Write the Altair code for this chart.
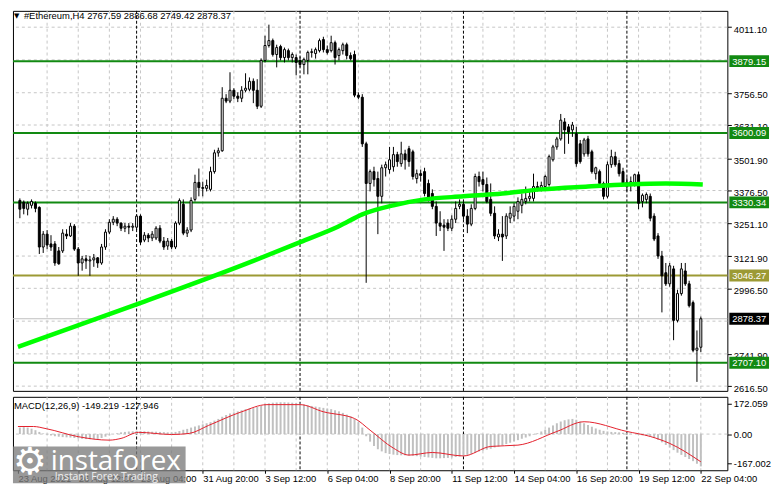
import altair as alt
import pandas as pd

# ---------------- data ----------------
OPEN = [3338, 3331, 3304, 3319, 3327, 3311, 3157, 3207, 3169, 3169,
        3142, 3142, 3207, 3200, 3238, 3149, 3095, 3111, 3103, 3107,
        3115, 3095, 3157, 3215, 3253, 3265, 3250, 3230, 3238, 3234,
        3234, 3277, 3184, 3203, 3192, 3192, 3230, 3180, 3161, 3180,
        3157, 3250, 3323, 3211, 3223, 3342, 3408, 3388, 3385, 3381,
        3450, 3523, 3531, 3735, 3724, 3766, 3743, 3735, 3766, 3770,
        3801, 3766, 3704, 3882, 3940, 3959, 3905, 3936, 3893, 3920,
        3893, 3893, 3882, 3866, 3882, 3913, 3909, 3920, 3963, 3924,
        3920, 3951, 3901, 3920, 3943, 3901, 3905, 3747, 3739, 3558,
        3404, 3450, 3423, 3354, 3465, 3458, 3469, 3516, 3481, 3519,
        3539, 3527, 3423, 3442, 3450, 3404, 3365, 3315, 3250, 3242,
        3250, 3230, 3265, 3315, 3323, 3277, 3246, 3307, 3431, 3419,
        3400, 3342, 3288, 3196, 3207, 3200, 3269, 3277, 3296, 3319,
        3334, 3346, 3346, 3392, 3385, 3392, 3400, 3496, 3546, 3577,
        3643, 3624, 3612, 3597, 3558, 3519, 3577, 3527, 3442, 3450,
        3404, 3354, 3477, 3508, 3481, 3450, 3408, 3400, 3404, 3438,
        3334, 3342, 3354, 3277, 3200, 3122, 3057, 3014, 3072, 2872,
        2976, 3064, 3014, 2941, 2756, 2767.59]
HIGH = [3346, 3338, 3334, 3342, 3334, 3315, 3219, 3223, 3203, 3180,
        3157, 3226, 3226, 3250, 3246, 3157, 3122, 3126, 3122, 3130,
        3118, 3169, 3226, 3265, 3277, 3273, 3253, 3250, 3250, 3250,
        3284, 3284, 3215, 3211, 3219, 3238, 3242, 3196, 3192, 3188,
        3257, 3346, 3342, 3234, 3350, 3438, 3462, 3411, 3419, 3469,
        3535, 3543, 3778, 3751, 3836, 3774, 3758, 3782, 3832, 3816,
        3812, 3809, 3890, 3978, 4021, 3967, 3943, 3943, 3932, 3928,
        3913, 3905, 3897, 3893, 3920, 3928, 3932, 3967, 3974, 3940,
        3978, 3959, 3932, 3951, 3951, 3913, 3920, 3758, 3751, 3566,
        3458, 3469, 3450, 3477, 3489, 3546, 3546, 3527, 3566, 3535,
        3550, 3535, 3458, 3458, 3465, 3419, 3381, 3334, 3296, 3265,
        3265, 3280, 3334, 3342, 3334, 3304, 3323, 3442, 3450, 3450,
        3427, 3404, 3315, 3226, 3277, 3288, 3315, 3327, 3350, 3365,
        3392, 3373, 3442, 3411, 3411, 3438, 3516, 3554, 3585, 3674,
        3658, 3635, 3643, 3624, 3573, 3581, 3589, 3535, 3469, 3458,
        3411, 3489, 3535, 3527, 3496, 3465, 3427, 3431, 3442, 3450,
        3365, 3369, 3365, 3288, 3211, 3142, 3095, 3095, 3084, 2991,
        3095, 3095, 3026, 2949, 2833, 2886.68]
LOW = [3269, 3284, 3280, 3307, 3292, 3130, 3134, 3149, 3142, 3084,
       3088, 3134, 3188, 3196, 3142, 3045, 3065, 3072, 3045, 3080,
       3076, 3088, 3146, 3207, 3242, 3238, 3219, 3215, 3207, 3219,
       3223, 3165, 3176, 3176, 3180, 3184, 3172, 3146, 3146, 3149,
       3149, 3242, 3203, 3196, 3215, 3334, 3354, 3354, 3373, 3373,
       3442, 3508, 3527, 3716, 3716, 3731, 3720, 3720, 3758, 3762,
       3716, 3693, 3697, 3874, 3932, 3897, 3855, 3882, 3874, 3882,
       3874, 3824, 3855, 3828, 3828, 3893, 3889, 3913, 3913, 3905,
       3913, 3866, 3882, 3905, 3886, 3882, 3739, 3731, 3546, 3018,
       3373, 3392, 3207, 3327, 3431, 3442, 3450, 3469, 3469, 3458,
       3469, 3419, 3404, 3411, 3354, 3334, 3304, 3200, 3219, 3142,
       3219, 3219, 3250, 3304, 3265, 3211, 3238, 3300, 3392, 3373,
       3327, 3277, 3188, 3180, 3103, 3188, 3250, 3257, 3265, 3288,
       3323, 3334, 3334, 3373, 3373, 3384, 3392, 3489, 3535, 3570,
       3519, 3558, 3585, 3469, 3481, 3508, 3508, 3442, 3419, 3392,
       3342, 3346, 3465, 3469, 3431, 3396, 3373, 3373, 3392, 3304,
       3311, 3327, 3257, 3180, 3111, 2903, 3006, 3003, 2795, 2864,
       2968, 3006, 2922, 2748, 2633, 2749.42]
CLOSE = [3304, 3307, 3327, 3334, 3307, 3157, 3207, 3165, 3157, 3095,
         3092, 3211, 3200, 3238, 3149, 3095, 3111, 3103, 3107, 3115,
         3095, 3157, 3215, 3253, 3265, 3250, 3230, 3238, 3234, 3238,
         3277, 3176, 3203, 3192, 3207, 3230, 3180, 3157, 3180, 3157,
         3250, 3338, 3211, 3223, 3338, 3408, 3388, 3385, 3396, 3450,
         3523, 3531, 3735, 3724, 3766, 3743, 3735, 3766, 3774, 3801,
         3766, 3704, 3882, 3940, 3959, 3905, 3932, 3893, 3924, 3893,
         3905, 3874, 3866, 3886, 3913, 3916, 3924, 3959, 3924, 3913,
         3951, 3893, 3924, 3943, 3901, 3889, 3747, 3739, 3558, 3404,
         3450, 3419, 3354, 3465, 3477, 3496, 3516, 3489, 3519, 3496,
         3489, 3431, 3442, 3435, 3365, 3342, 3315, 3250, 3238, 3234,
         3230, 3265, 3307, 3323, 3277, 3246, 3307, 3431, 3411, 3400,
         3334, 3288, 3200, 3207, 3196, 3277, 3288, 3315, 3334, 3342,
         3346, 3354, 3392, 3385, 3396, 3431, 3508, 3546, 3577, 3650,
         3612, 3604, 3631, 3481, 3489, 3573, 3519, 3450, 3465, 3404,
         3354, 3477, 3508, 3477, 3442, 3404, 3392, 3411, 3438, 3327,
         3358, 3361, 3269, 3188, 3122, 3045, 3014, 3084, 2872, 2976,
         3072, 3014, 2929, 2756, 2764, 2878.37]
BAR_INDEX = list(range(len(OPEN)))

MA_INDEX = [-0.5, 30, 60, 72, 82, 88, 96, 104, 114, 124, 134, 146, 156, 166, 175.5]
MA_VALUE = [2769, 2934, 3103, 3176, 3238, 3284, 3319, 3342, 3354, 3365,
            3381, 3392, 3400, 3404, 3400]

MACD_MAIN = [30, 32, 30, 25, 18, 10, 3, -3, -6, -10,
             -12, -14, -15, -16, -18, -20, -22, -23, -24, -24,
             -22, -18, -12, -6, 0, 4, 8, 10, 12, 13,
             15, 14, 13, 12, 11, 11, 10, 9, 8, 8,
             10, 14, 20, 24, 30, 35, 40, 45, 50, 55,
             62, 70, 80, 88, 95, 100, 105, 110, 115, 118,
             120, 125, 130, 138, 142, 145, 146, 147, 147, 146,
             145, 143, 140, 137, 133, 130, 127, 124, 121, 118,
             115, 110, 105, 98, 90, 82, 70, 55, 30, -10,
             -35, -55, -70, -80, -88, -92, -95, -97, -98, -98,
             -99, -100, -102, -104, -106, -108, -110, -112, -112, -111,
             -110, -108, -106, -104, -100, -96, -92, -86, -80, -76,
             -72, -68, -62, -58, -52, -46, -40, -34, -28, -22,
             -16, -10, -3, 4, 12, 20, 30, 40, 50, 58,
             64, 68, 70, 66, 58, 50, 42, 34, 26, 20,
             15, 12, 10, 9, 8, 6, 4, 2, 0, -3,
             -6, -8, -12, -18, -26, -38, -50, -62, -74, -86,
             -96, -106, -115, -125, -137, -149.219]
SIGNAL_INDEX = [-0.5, 3.5, 6.75, 15, 23, 26, 30.5, 39, 43.5, 48.5, 57, 63.5, 72, 78,
                86, 90, 96, 100, 106, 114, 121, 128, 138, 145, 156, 162, 167, 175]
SIGNAL_VALUE = [35, 35, 25, -12, -28, -20, 8, -2, 3, 40, 103, 136, 136, 103,
                72, 18, -65, -97, -85, -101, -57, -51, 12, 57, 12, -11, -43, -127.946]

LEVELS = [3879.15, 3600.09, 3330.34, 3046.27, 2707.10]
LEVEL_COLORS = ["#128a12", "#128a12", "#128a12", "#9c9a34", "#128a12"]
LAST_PRICE = 2878.37

PRICE_TICKS = [4011.10, 3756.50, 3631.10, 3501.90, 3376.50, 3251.10, 3121.90,
               2996.50, 2741.90, 2616.50]
PRICE_GRID = [4011.10, 3884.0, 3756.50, 3631.10, 3501.90, 3376.50, 3251.10,
              3121.90, 2996.50, 2869.0, 2741.90, 2616.50]
TIME_TICKS = [-0.5, 15, 31, 47, 63, 79, 95, 111, 127, 143, 159, 175]
TIME_LABELS = ["23 Aug 2021", "26 Aug 12:00", "29 Aug 04:00", "31 Aug 20:00",
               "3 Sep 12:00", "6 Sep 04:00", "8 Sep 20:00", "11 Sep 12:00",
               "14 Sep 04:00", "16 Sep 20:00", "19 Sep 12:00", "22 Sep 04:00"]
LIGHT_GRID = [7, 15, 23, 31, 39, 47, 55, 63, 71, 79, 87, 95, 103, 111, 119,
              127, 135, 143, 151, 159, 167, 175]
WEEK_SEPARATORS = [30, 72, 114, 156]
MACD_MAX = 172.059
MACD_MIN = -167.002
MACD_TICK_POS = [140.0, 0.0, -135.0]
MACD_TICK_TEXT = ["172.059", "0.00", "-167.002"]

# ---------------- chart ----------------
W = 720
H_MAIN = 383
H_MACD = 74
FONT = "Liberation Sans"
FS = 9.5

xs = alt.Scale(domain=[-0.5, 180.54], nice=False, zero=False)
ys = alt.Scale(domain=[2598.1, 4074.6], nice=False, zero=False)
ms = alt.Scale(domain=[MACD_MIN, MACD_MAX], nice=False, zero=False)

candles = pd.DataFrame({"i": BAR_INDEX, "o": OPEN, "h": HIGH, "l": LOW, "c": CLOSE})
ma_df = pd.DataFrame({"i": MA_INDEX, "v": MA_VALUE})
macd_df = pd.DataFrame({"i": BAR_INDEX, "m": MACD_MAIN})
sig_df = pd.DataFrame({"i": SIGNAL_INDEX, "s": SIGNAL_VALUE})
lev_df = pd.DataFrame({"p": LEVELS, "col": LEVEL_COLORS,
                       "label": [f"{v:.2f}" for v in LEVELS]})
last_df = pd.DataFrame({"p": [LAST_PRICE], "col": ["#000000"],
                        "label": [f"{LAST_PRICE:.2f}"]})
pgrid_df = pd.DataFrame({"p": PRICE_GRID})
vgrid_df = pd.DataFrame({"i": LIGHT_GRID})
week_df = pd.DataFrame({"i": WEEK_SEPARATORS})

price_axis = alt.Axis(orient="right", values=PRICE_TICKS, format=".2f",
                      labelOffset=2, tickSize=4, labelPadding=2, grid=False,
                      domain=False, title=None, labelOverlap=False)
label_expr = ("[" + ",".join(f"'{s}'" for s in TIME_LABELS) + "][indexof(["
              + ",".join(str(t) for t in TIME_TICKS) + "], datum.value)]")
time_axis = alt.Axis(orient="bottom", values=TIME_TICKS, labelExpr=label_expr,
                     labelAlign="left", labelBaseline="top", labelFlush=False,
                     tickSize=3, labelPadding=0, grid=False, domain=False,
                     title=None, labelOverlap=False)
macd_label_expr = ("[" + ",".join(f"'{s}'" for s in MACD_TICK_TEXT) + "][indexof(["
                   + ",".join(str(t) for t in MACD_TICK_POS) + "], datum.value)]")
macd_axis = alt.Axis(orient="right", values=MACD_TICK_POS, labelExpr=macd_label_expr,
                     labelFlush=False, tickSize=4, labelPadding=2,
                     grid=False, domain=False, title=None, labelOverlap=False)


def XM(f="i"):
    return alt.X(f"{f}:Q", scale=xs, axis=None)


def YP(f):
    return alt.Y(f"{f}:Q", scale=ys, axis=price_axis)


def XB(f="i"):
    return alt.X(f"{f}:Q", scale=xs, axis=time_axis)


def YM(f):
    return alt.Y(f"{f}:Q", scale=ms, axis=macd_axis)


hgrid = alt.Chart(pgrid_df).mark_rule(color="#c6c6c6", strokeDash=[3, 3], strokeWidth=1).encode(y=YP("p"))
vgrid = alt.Chart(vgrid_df).mark_rule(color="#c6c6c6", strokeDash=[3, 3], strokeWidth=1).encode(x=XM())
weeks = alt.Chart(week_df).mark_rule(color="#000000", strokeDash=[3, 2], strokeWidth=1).encode(x=XM())
levels = alt.Chart(lev_df).mark_rule(strokeWidth=2).encode(
    y=YP("p"), color=alt.Color("col:N", scale=None, legend=None))
lastline = alt.Chart(last_df).mark_rule(color="#c0c0c0", strokeWidth=1).encode(y=YP("p"))
wicks = alt.Chart(candles).mark_rule(color="#000000", strokeWidth=1).encode(
    x=XM(), y=YP("l"), y2="h:Q")
bodies = alt.Chart(candles).mark_bar(size=2, stroke="#000000", strokeWidth=1).encode(
    x=XM(), y=YP("o"), y2="c:Q",
    fill=alt.condition("datum.c >= datum.o", alt.value("#ffffff"), alt.value("#000000")))
ma = alt.Chart(ma_df).mark_line(color="#00ff00", strokeWidth=4.5, interpolate="monotone").encode(
    x=XM(), y=YP("v"))

box_df = pd.concat([lev_df, last_df], ignore_index=True)
boxes = alt.Chart(box_df).mark_tick(orient="horizontal", thickness=12, size=40, opacity=1).encode(
    x=alt.value(W + 22), y=YP("p"), color=alt.Color("col:N", scale=None, legend=None))
box_text = alt.Chart(box_df).mark_text(align="left", baseline="middle", font=FONT,
                                       fontSize=FS, color="#ffffff", dy=0.5).encode(
    x=alt.value(W + 5), y=YP("p"), text="label:N")

header = f"#Ethereum,H4  {OPEN[-1]:.2f} {HIGH[-1]:.2f} {LOW[-1]:.2f} {CLOSE[-1]:.2f}"
head = alt.Chart(pd.DataFrame({"t": [header]})).mark_text(
    align="left", baseline="middle", font=FONT, fontSize=FS, color="#000000").encode(
    x=alt.value(11), y=alt.value(5), text="t:N")
tri = alt.Chart(pd.DataFrame({"t": ["\u25bc"]})).mark_text(
    align="left", baseline="middle", font="DejaVu Sans", fontSize=7, color="#000000").encode(
    x=alt.value(1), y=alt.value(5), text="t:N")

main = alt.layer(hgrid, vgrid, weeks, levels, lastline, wicks, bodies, ma,
                 boxes, box_text, head, tri).properties(width=W, height=H_MAIN)

# ---- MACD panel ----
zero_df = pd.DataFrame({"v": [0.0]})
mzero = alt.Chart(zero_df).mark_rule(color="#c6c6c6", strokeDash=[3, 3]).encode(y=YM("v"))
mvgrid = alt.Chart(vgrid_df).mark_rule(color="#c6c6c6", strokeDash=[3, 3]).encode(x=XB())
mweeks = alt.Chart(week_df).mark_rule(color="#000000", strokeDash=[3, 2]).encode(x=XB())
hist = alt.Chart(macd_df).mark_bar(size=2, color="#c0c0c0").encode(
    x=XB(), y=YM("m"), y2=alt.datum(0))
signal = alt.Chart(sig_df).mark_line(color="#e4202c", strokeWidth=1, interpolate="monotone").encode(
    x=XB(), y=YM("s"))
mtitle = alt.Chart(pd.DataFrame({"t": [f"MACD(12,26,9) {MACD_MAIN[-1]:.3f} {SIGNAL_VALUE[-1]:.3f}"]})).mark_text(
    align="left", baseline="middle", font=FONT, fontSize=FS, color="#000000").encode(
    x=alt.value(1), y=alt.value(9), text="t:N")

# watermark
logo_bg = alt.Chart(pd.DataFrame({"a": [1]})).mark_rect(color="#7c7c7c", opacity=0.78).encode(
    x=alt.value(0), x2=alt.value(174), y=alt.value(50), y2=alt.value(87))
logo_gear = alt.Chart(pd.DataFrame({"t": ["\u2699"]})).mark_text(
    align="left", baseline="middle", font="DejaVu Sans", fontSize=38, color="#ffffff").encode(
    x=alt.value(0), y=alt.value(67), text="t:N")
logo_text = alt.Chart(pd.DataFrame({"t": ["instaforex"]})).mark_text(
    align="left", baseline="alphabetic", font="Open Sans", fontSize=28, color="#ffffff").encode(
    x=alt.value(38), y=alt.value(74), text="t:N")
logo_sub = alt.Chart(pd.DataFrame({"t": ["Instant Forex Trading"]})).mark_text(
    align="left", baseline="middle", font="Open Sans", fontSize=10.5, color="#ffffff", opacity=0.85).encode(
    x=alt.value(42), y=alt.value(81), text="t:N")

macd = alt.layer(mzero, mvgrid, mweeks, hist, signal, mtitle,
                 logo_bg, logo_gear, logo_text, logo_sub).properties(width=W, height=H_MACD)

chart = alt.vconcat(main, macd, spacing=2).properties(
    padding=0, background="#ffffff"
).configure_view(stroke="#000000", strokeWidth=1).configure_axis(
    labelFont=FONT, labelFontSize=FS, labelColor="#000000", tickColor="#000000", tickWidth=1)

chart.save("out.html", embed_options={"renderer": "svg", "actions": False})
